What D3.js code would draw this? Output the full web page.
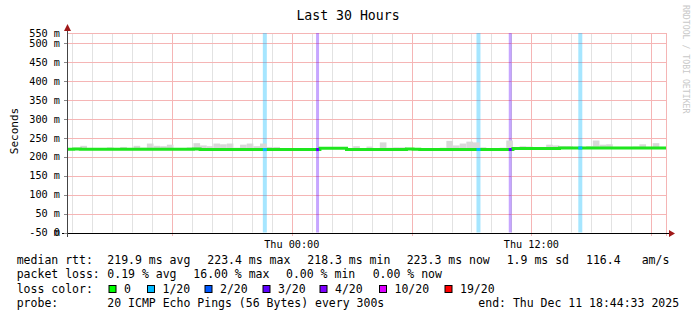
<!DOCTYPE html>
<html>
<head>
<meta charset="utf-8">
<script src="https://cdn.jsdelivr.net/npm/d3@7"></script>
<style>
  body { margin: 0; background: #fff; }
  text { font-family: "DejaVu Sans Mono", monospace; }
</style>
</head>
<body>
<div id="chart"></div>
<script>
// time window (UTC, as printed on the graph)
var startTime = new Date(Date.UTC(2025, 11, 10, 12, 44, 33));
var endTime = new Date(Date.UTC(2025, 11, 11, 18, 44, 33));
var stepSeconds = 1200; // one value every 20 minutes

// median rtt in ms, one per 20 min
var medianMs = [
  219.6, 220.8, 219.6, 219.6, 219.6, 219.6, 219.6, 219.6, 219.6, 219.6,
  219.6, 219.6, 219.6, 219.6, 219.6, 219.6, 219.6, 219.6, 219.6, 220.6,
  219.1, 219.1, 219.1, 219.1, 219.1, 219.1, 219.1, 219.1, 219.1, 219.1,
  219.1, 219.1, 219.1, 219.1, 219.1, 219.1, 219.1, 219.1, 222.6, 222.6,
  222.6, 222.6, 219.4, 219.4, 219.4, 219.4, 219.4, 219.4, 219.4, 219.4,
  219.4, 220.8, 220.2, 219.3, 219.3, 219.3, 219.3, 219.3, 219.3, 219.3,
  219.3, 219.3, 219.3, 219.3, 219.3, 219.3, 219.3, 222.0, 222.0, 222.0,
  222.0, 222.0, 222.0, 222.0, 223.2, 223.2, 223.2, 223.2, 223.2, 223.2,
  223.2, 223.2, 223.2, 223.2, 223.2, 223.2, 223.2, 223.2, 223.2, 223.3
];

// highest ping (smoke top) in ms, one per 20 min
var smokeMaxMs = [
  222, 224, 229, 222, 222, 222, 225, 222, 226, 223,
  229, 224, 235, 229, 228, 232, 222, 222, 225, 236,
  230, 228, 235, 233, 235, 224, 232, 235, 228, 235,
  226, 226, 222, 222, 222, 221, 221, 222, 224, 225,
  225, 224, 222, 228, 222, 227, 222, 238, 224, 225,
  225, 222, 222, 222, 222, 223, 224, 242, 230, 235,
  240, 238, 225, 223, 223, 224, 243, 226, 228, 227,
  225, 226, 232, 230, 228, 228, 226, 225, 228, 243,
  232, 233, 226, 226, 226, 227, 233, 226, 236, 226
];

// packet loss events
var lossStart = ["2025-12-10T22:33:00Z", "2025-12-11T01:13:00Z", "2025-12-11T09:15:00Z", "2025-12-11T10:52:00Z", "2025-12-11T14:21:00Z"];
var lossEnd = ["2025-12-10T22:45:00Z", "2025-12-11T01:22:00Z", "2025-12-11T09:27:00Z", "2025-12-11T11:01:00Z", "2025-12-11T14:33:00Z"];
var lossLevel = [1, 3, 1, 3, 1];

// loss colour legend
var lossLabels = ["0", "1/20", "2/20", "3/20", "4/20", "10/20", "19/20"];
var lossColors = ["#00ff00", "#00b8ff", "#0059ff", "#5e00ff", "#7e00ff", "#dd00ff", "#ff0000"];
var lossColorIndex = {0: 0, 1: 1, 2: 2, 3: 3, 4: 4, 10: 5, 19: 6};

// y axis ticks
var yTicks = [0, 50, 100, 150, 200, 250, 300, 350, 400, 450, 500];
var yTickLabels = ["0", "50 m", "100 m", "150 m", "200 m", "250 m", "300 m", "350 m", "400 m", "450 m", "500 m"];
var yTopLabel = "550 m";
var yBottomLabel = "-50 m";
var yMax = 527;

var width = 697;
var height = 321;

var svg = d3.select("#chart")
    .append("svg")
    .attr("width", width)
    .attr("height", height)
    .style("display", "block");

svg.append("rect")
    .attr("width", width)
    .attr("height", height)
    .attr("fill", "#fff");

var x = d3.scaleUtc()
    .domain([startTime, endTime])
    .range([67, 666]);

var y = d3.scaleLinear()
    .domain([0, yMax])
    .range([232.5, 33]);

var binTime = function (i) {
    return new Date(startTime.getTime() + i * stepSeconds * 1000);
};

// minor grid, hourly
svg.append("g").selectAll("line")
    .data(x.ticks(d3.utcHour.every(1)))
    .enter().append("line")
    .attr("x1", function (d) { return Math.round(x(d)) + 0.5; })
    .attr("x2", function (d) { return Math.round(x(d)) + 0.5; })
    .attr("y1", y(yMax))
    .attr("y2", y(0))
    .style("stroke", "#e2e2e2")
    .style("stroke-width", 1);

// horizontal grid
svg.append("g").selectAll("line")
    .data(yTicks.slice(1).concat([yMax]))
    .enter().append("line")
    .attr("x1", 67)
    .attr("x2", 667)
    .attr("y1", function (d) { return Math.round(y(d)) + 0.5; })
    .attr("y2", function (d) { return Math.round(y(d)) + 0.5; })
    .style("stroke", "#f5b5b5")
    .style("stroke-width", 1);

// major grid, every 6 hours + right edge
svg.append("g").selectAll("line")
    .data(x.ticks(d3.utcHour.every(6)).concat([endTime]))
    .enter().append("line")
    .attr("x1", function (d) { return Math.round(x(d)) + 0.5; })
    .attr("x2", function (d) { return Math.round(x(d)) + 0.5; })
    .attr("y1", y(yMax))
    .attr("y2", 236)
    .style("stroke", "#f5b5b5")
    .style("stroke-width", 1);

// loss bands
var losses = lossStart.map(function (s, i) {
    return {start: new Date(s), end: new Date(lossEnd[i]), color: lossColors[lossColorIndex[lossLevel[i]]]};
});

svg.append("g").selectAll("rect")
    .data(losses)
    .enter().append("rect")
    .attr("x", function (d) { return x(d.start); })
    .attr("width", function (d) { return x(d.end) - x(d.start); })
    .attr("y", y(yMax))
    .attr("height", y(0) - y(yMax))
    .attr("fill", function (d) { return d.color; })
    .attr("fill-opacity", 0.35);

// smoke
svg.append("g").selectAll("rect")
    .data(smokeMaxMs)
    .enter().append("rect")
    .attr("x", function (d, i) { return x(binTime(i)); })
    .attr("width", function (d, i) { return x(binTime(i + 1)) - x(binTime(i)); })
    .attr("y", function (d) { return y(d); })
    .attr("height", function (d, i) { return Math.max(0, y(medianMs[i]) - y(d)); })
    .attr("fill", "#d8d8d8");

// median line
var medianPoints = medianMs.map(function (v, i) { return [binTime(i), v]; });
medianPoints.push([endTime, medianMs[medianMs.length - 1]]);

var line = d3.line()
    .x(function (d) { return x(d[0]); })
    .y(function (d) { return y(d[1]); })
    .curve(d3.curveStepAfter);

svg.append("path")
    .datum(medianPoints)
    .attr("d", line)
    .attr("fill", "none")
    .style("stroke", "#1ee61e")
    .style("stroke-width", 3);

// median coloured by loss
svg.append("g").selectAll("rect")
    .data(losses)
    .enter().append("rect")
    .attr("x", function (d) { return x(d.start); })
    .attr("width", function (d) { return x(d.end) - x(d.start); })
    .attr("y", function (d) {
        var i = Math.floor((d.start - startTime) / (stepSeconds * 1000));
        return y(medianMs[i]) - 1.5;
    })
    .attr("height", 3)
    .attr("fill", function (d) { return d.color; });

// axes
svg.append("line")
    .attr("x1", 62).attr("x2", 670)
    .attr("y1", 233.5).attr("y2", 233.5)
    .style("stroke", "#000");

svg.append("line")
    .attr("x1", 67.5).attr("x2", 67.5)
    .attr("y1", 237).attr("y2", 28)
    .style("stroke", "#444");

svg.append("path")
    .attr("d", "M64,31 L71,31 L67.5,24 Z")
    .attr("fill", "#a01818");

svg.append("path")
    .attr("d", "M669,230 L669,237 L675,233.5 Z")
    .attr("fill", "#a01818");

// y tick marks + labels
svg.append("g").selectAll("line")
    .data(yTicks)
    .enter().append("line")
    .attr("x1", 64).attr("x2", 67)
    .attr("y1", function (d) { return Math.round(y(d)) + 0.5; })
    .attr("y2", function (d) { return Math.round(y(d)) + 0.5; })
    .style("stroke", "#888");

var yLabels = yTicks.map(function (v, i) { return {v: v, t: yTickLabels[i]}; });
yLabels.push({v: yMax, t: yTopLabel});
yLabels.push({v: 0, t: yBottomLabel});

svg.append("g").selectAll("text")
    .data(yLabels)
    .enter().append("text")
    .attr("x", 60)
    .attr("y", function (d) { return y(d.v); })
    .attr("dy", "0.36em")
    .attr("text-anchor", "end")
    .style("font-size", "10.2px")
    .style("fill", "#000")
    .text(function (d) { return d.t; });

// x labels
svg.append("g").selectAll("text")
    .data(x.ticks(d3.utcHour.every(12)))
    .enter().append("text")
    .attr("x", function (d) { return x(d); })
    .attr("y", 248)
    .attr("text-anchor", "middle")
    .style("font-size", "10.2px")
    .text(d3.utcFormat("%a %H:%M"));

// titles
svg.append("text")
    .attr("x", 348)
    .attr("y", 20)
    .attr("text-anchor", "middle")
    .style("font-size", "13.2px")
    .text("Last 30 Hours");

svg.append("text")
    .attr("transform", "translate(18,131) rotate(-90)")
    .attr("text-anchor", "middle")
    .style("font-size", "11px")
    .text("Seconds");

svg.append("text")
    .attr("transform", "translate(683,5) rotate(90)")
    .attr("text-anchor", "start")
    .style("font-size", "8.2px")
    .style("fill", "#c8c8c8")
    .text("RRDTOOL / TOBI OETIKER");

// legend
var legendRows = [
    [[16.7, "median rtt:"], [107.3, "219.9 ms avg"], [207.3, "223.4 ms max"], [307.3, "218.3 ms min"], [406.7, "223.3 ms now"], [506.7, "1.9 ms sd"], [586, "116.4"], [641.7, "am/s"]],
    [[16.7, "packet loss:"], [107.3, "0.19 % avg"], [193.3, "16.00 % max"], [286, "0.00 % min"], [372.7, "0.00 % now"]],
    [[16.7, "loss color:"]],
    [[16.7, "probe:"], [107.3, "20 ICMP Echo Pings (56 Bytes) every 300s"], [478.3, "end: Thu Dec 11 18:44:33 2025"]]
];
var rowY = [264, 278.3, 292.6, 307];

legendRows.forEach(function (row, r) {
    svg.append("g").selectAll("text")
        .data(row)
        .enter().append("text")
        .attr("x", function (d) { return d[0]; })
        .attr("y", rowY[r])
        .style("font-size", "11.5px")
        .style("white-space", "pre")
        .text(function (d) { return d[1]; });
});

var boxX = [108.5, 147, 204.5, 262.5, 319.5, 379, 444.5];

var lg = svg.append("g").selectAll("g")
    .data(lossLabels)
    .enter().append("g")
    .attr("transform", function (d, i) { return "translate(" + boxX[i] + ",0)"; });

lg.append("rect")
    .attr("x", 0.5)
    .attr("y", 285.5)
    .attr("width", 7)
    .attr("height", 7)
    .attr("fill", function (d, i) { return lossColors[i]; })
    .style("stroke", "#000")
    .style("stroke-width", 1);

lg.append("text")
    .attr("x", 15.5)
    .attr("y", rowY[2])
    .style("font-size", "11.5px")
    .text(function (d) { return d; });
</script>
</body>
</html>
